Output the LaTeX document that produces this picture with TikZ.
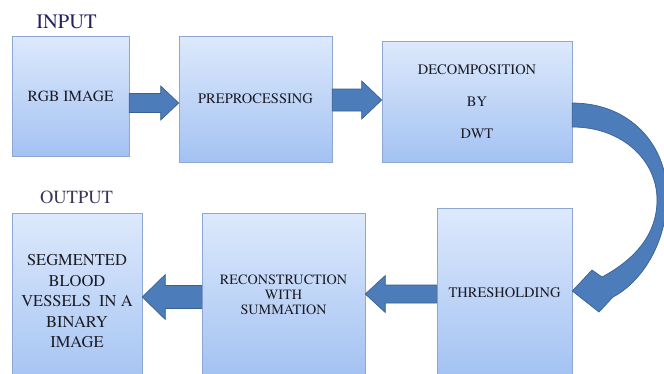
\documentclass[tikz,border=0pt]{standalone}
\usepackage[T1]{fontenc}
\renewcommand{\rmdefault}{ptm}
\usetikzlibrary{calc}
\definecolor{boxtop}{RGB}{221,233,252}
\definecolor{boxbot}{RGB}{163,194,242}
\definecolor{boxline}{RGB}{140,168,210}
\definecolor{arrfill}{RGB}{76,125,186}
\definecolor{arrline}{RGB}{58,96,145}
\definecolor{txt}{RGB}{28,28,36}
\definecolor{navy}{RGB}{35,35,95}
\definecolor{outc}{RGB}{55,55,90}
\tikzset{
  stage/.style={rectangle, draw=boxline, line width=0.6pt, top color=boxtop,
    bottom color=boxbot, inner sep=0pt, align=center, text=txt},
  barrow/.style={fill=arrfill, draw=arrline, line width=0.7pt, line join=miter},
  heading/.style={anchor=base, inner sep=0pt},
}
% right-pointing block arrow: from, to, y centre, shaft half, head half, head length
\newcommand\rightblock[6]{%
  \filldraw[barrow] (#1.east |- 0,{#3-#4})
    -- ($(#2.west |- 0,{#3-#4})+(-#6,0)$)
    -- ($(#2.west |- 0,{#3-#5})+(-#6,0)$)
    -- (#2.west |- 0,#3)
    -- ($(#2.west |- 0,{#3+#5})+(-#6,0)$)
    -- ($(#2.west |- 0,{#3+#4})+(-#6,0)$)
    -- (#1.east |- 0,{#3+#4}) -- cycle;}
% left-pointing block arrow: from, to, y centre, shaft half, head half, head length
\newcommand\leftblock[6]{%
  \filldraw[barrow] (#1.west |- 0,{#3-#4})
    -- ($(#2.east |- 0,{#3-#4})+(#6,0)$)
    -- ($(#2.east |- 0,{#3-#5})+(#6,0)$)
    -- (#2.east |- 0,#3)
    -- ($(#2.east |- 0,{#3+#5})+(#6,0)$)
    -- ($(#2.east |- 0,{#3+#4})+(#6,0)$)
    -- (#1.west |- 0,{#3+#4}) -- cycle;}
\begin{document}
\begin{tikzpicture}[x=1pt,y=-1pt]
\useasboundingbox (0,0) rectangle (664,373);
\begin{scope}
\clip (0,0) rectangle (664,373);
\fill[white] (0,0) rectangle (664,373);

\node[heading, text=navy, font=\fontsize{20.5}{24}\selectfont] (inlab) at (66.5,28) {INPUT};
\node[heading, text=outc, font=\fontsize{18.5}{22}\selectfont] (outlab) at (76.5,203) {OUTPUT};

\node[stage, minimum width=117pt, minimum height=120pt, font=\fontsize{15.5}{18}\selectfont] (rgb) at (70.5,96) {RGB IMAGE};
\node[stage, minimum width=153pt, minimum height=126pt, font=\fontsize{14.5}{17}\selectfont] (pre) at (255.5,99) {PREPROCESSING};
\node[stage, minimum width=190pt, minimum height=121pt, font=\fontsize{14.5}{32}\selectfont] (dec) at (477,101.5) {DECOMPOSITION\\BY\\DWT};
\node[stage, minimum width=135pt, minimum height=169pt, font=\fontsize{14.5}{17}\selectfont] (thr) at (504.5,292.5) {THRESHOLDING};
\node[stage, minimum width=163pt, minimum height=163pt, font=\fontsize{14.2}{15}\selectfont] (rec) at (283.5,294.5) {RECONSTRUCTION\\WITH\\SUMMATION};
\node[stage, minimum width=130pt, minimum height=176pt, font=\fontsize{16.5}{20.5}\selectfont] (seg) at (77,301) {SEGMENTED\\BLOOD\\VESSELS\ \ IN A\\BINARY\\IMAGE};

\rightblock{rgb}{pre}{103}{9.5}{17}{18}
\rightblock{pre}{dec}{100}{11}{19}{20}
\leftblock{thr}{rec}{294}{9}{18.5}{20}
\leftblock{rec}{seg}{297}{11.5}{22.5}{23}

\filldraw[barrow] (dec.east |- 0,103)
  .. controls (630,103) and (667,145) .. (667,195)
  .. controls (667,245) and (640,283) .. (613,297)
  -- (599,312) -- (thr.east |- 0,291) -- (592,270) -- (602,277)
  .. controls (630,262) and (657,238) .. (657,200)
  .. controls (657,160) and (622,127) .. (dec.east |- 0,127) -- cycle;
\end{scope}
\end{tikzpicture}
\end{document}
